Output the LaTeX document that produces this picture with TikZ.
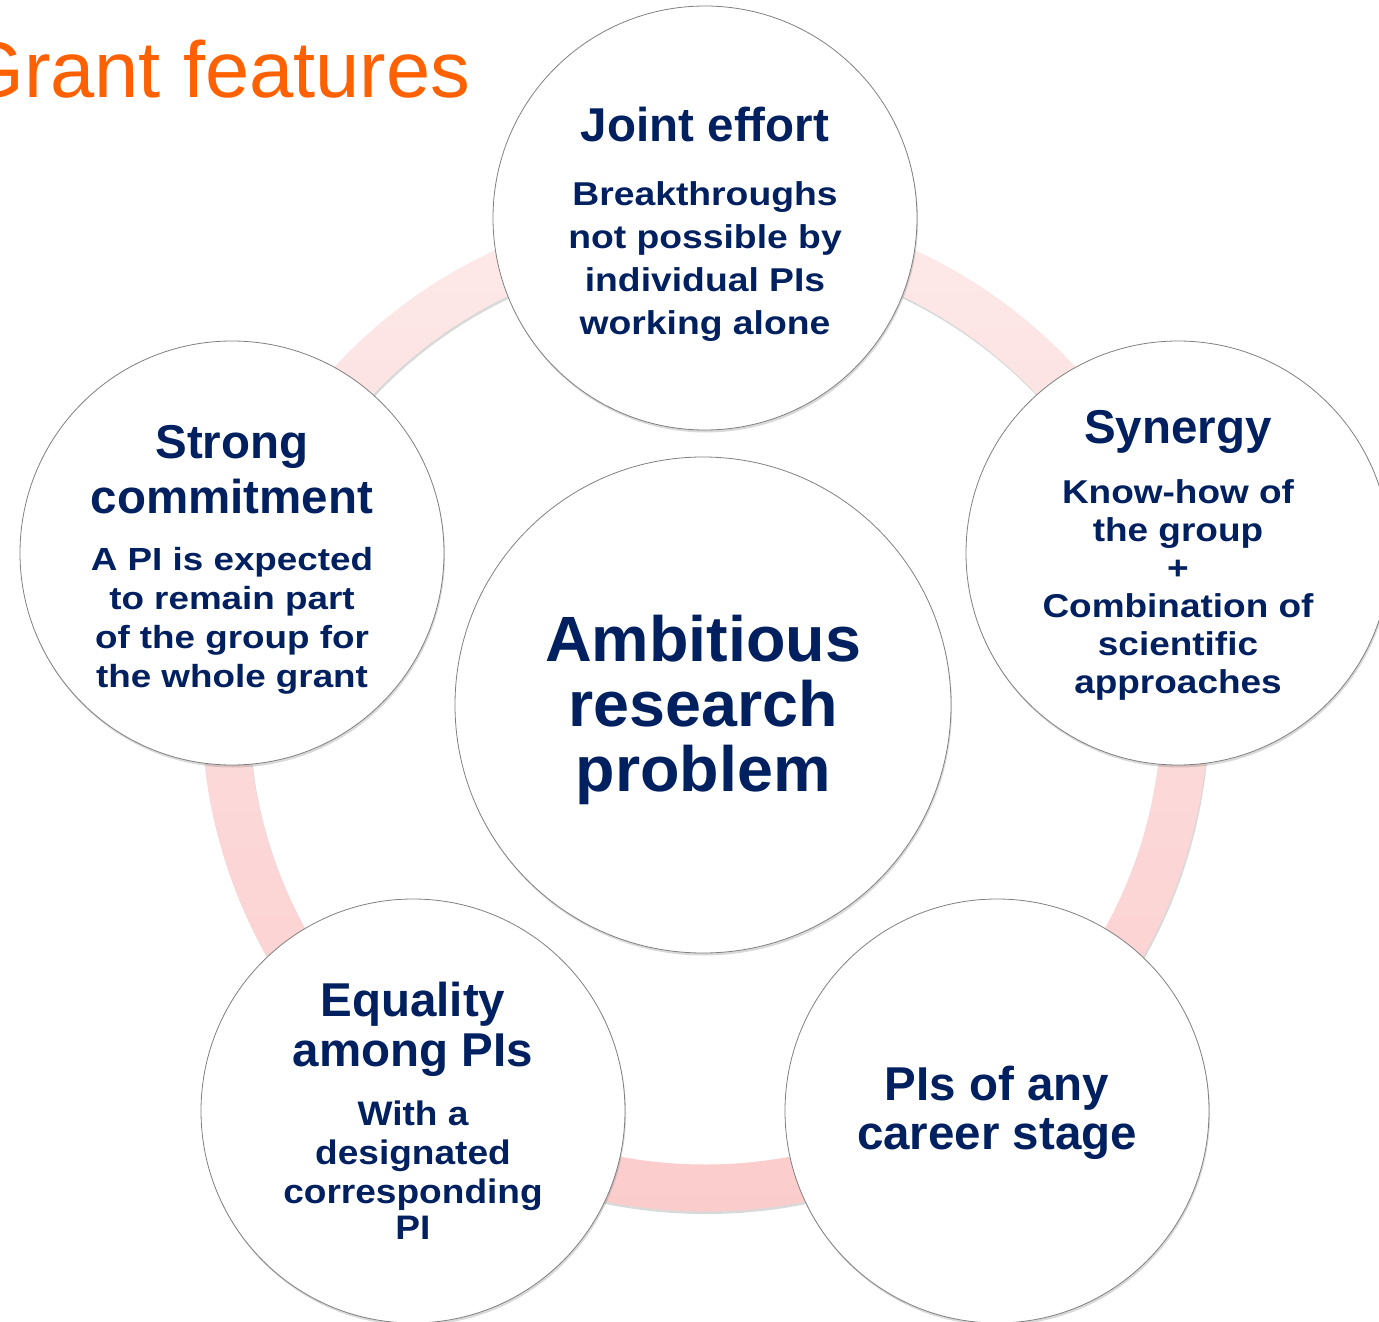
\documentclass[tikz,border=0pt]{standalone}
\usepackage{fontspec}
\setmainfont{Liberation Sans}
\usetikzlibrary{shadows}
\definecolor{navy}{RGB}{0,32,96}
\definecolor{grantorange}{RGB}{255,96,0}
\definecolor{ringtop}{RGB}{253,233,233}
\definecolor{ringbot}{RGB}{251,204,204}
\newcommand{\hd}[1]{{\normalfont\bfseries\fontsize{47.5}{47.5}\selectfont #1}}
\newcommand{\fs}[3]{\fontsize{#1}{#2}\selectfont\lineskiplimit=-100pt\bfseries\addfontfeature{FakeStretch=#3}}

\begin{document}
\begin{tikzpicture}[x=1pt,y=-1pt]
  \useasboundingbox (0,0) rectangle (1379,1322);

  \node[anchor=base west,inner sep=0,text=grantorange,font=\fontsize{79.5}{79.5}\selectfont] (title) at (-38,97) {Grant features};

  % ring behind the circles
  \coordinate (c) at (705,708);
  \fill[black,opacity=.15,even odd rule] ([shift={(1,2.5)}]c) circle (503.5pt) ([shift={(1,2.5)}]c) circle (456.5pt);
  \shade[top color=ringtop,bottom color=ringbot,even odd rule] (c) circle (503.5pt) (c) circle (456.5pt);

  \begin{scope}[every node/.style={circle,draw=black!50,line width=.8pt,fill=white,
      text=navy,align=center,inner sep=0,minimum size=424pt,
      drop shadow={shadow xshift=1pt,shadow yshift=-2.5pt,opacity=.3}}]
    \node[minimum size=496pt,font=\fs{64}{65}{1.01}] (0) at (703,705) {\rule{0pt}{57pt}Ambitious\\research\\problem};
    \node[font=\fs{33}{43}{1.13}] (1) at (705,218)
      {\rule{0pt}{47pt}\hd{Joint effort}\\[21pt]Breakthroughs\\not possible by\\individual PIs\\working alone};
    \node[font=\fs{33}{38}{1.12}] (2) at (1178,553)
      {\rule{0pt}{38pt}\hd{Synergy}\\[22pt]Know-how of\\the group\\+\\Combination of\\scientific\\approaches};
    \node[font=\fs{47.5}{49}{1.0}] (3) at (997,1111) {\rule{0pt}{39pt}PIs of any\\career stage};
    \node[font=\fs{34}{39}{1.09}] (4) at (413,1111)
      {\hd{Equality}\\[11pt]\hd{among PIs}\\[20pt]With a\\designated\\corresponding\\[-3pt]PI};
    \node[font=\fs{32}{39}{1.15}] (5) at (232,553)
      {\rule{0pt}{47pt}\hd{Strong}\\[16pt]\hd{commitment}\\[18pt]A PI is expected\\to remain part\\of the group for\\the whole grant};
  \end{scope}

\end{tikzpicture}
\end{document}
